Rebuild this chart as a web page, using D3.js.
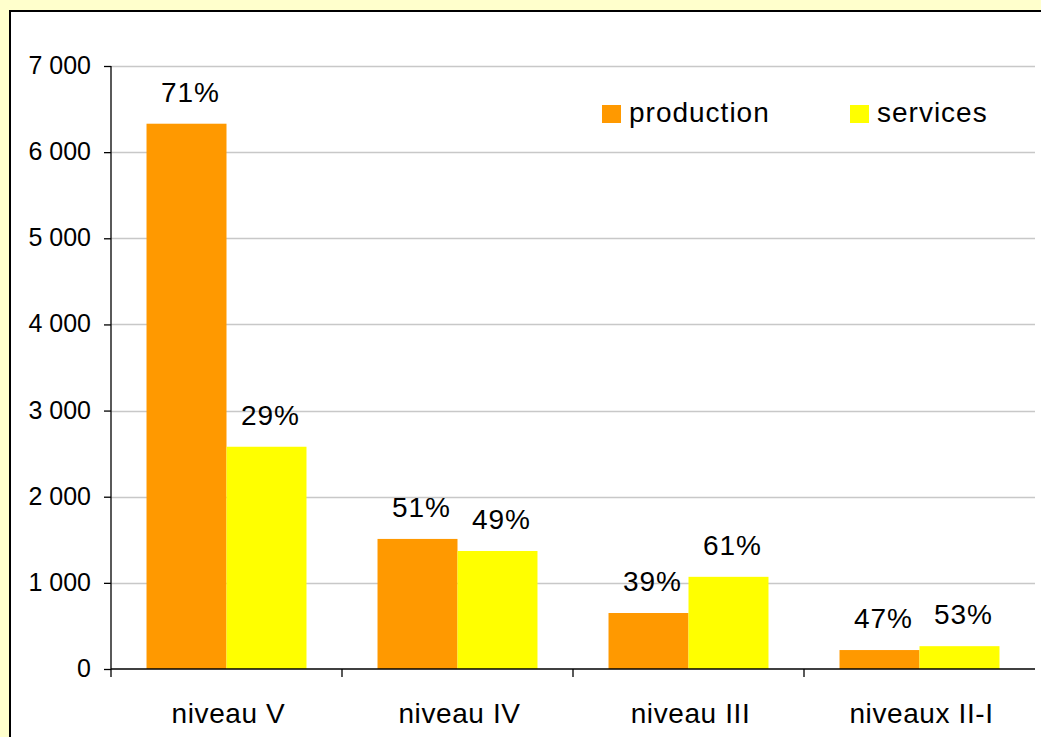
<!DOCTYPE html>
<meta charset="utf-8">
<script src="https://cdn.jsdelivr.net/npm/d3@7"></script>
<style>
  body { margin: 0; background: #FFFFCC; }
  text { font-family: "Liberation Sans", Arial, sans-serif; fill: #000; }
</style>
<div id="chart"></div>
<script>

// data
var categories = ["niveau V", "niveau IV", "niveau III", "niveaux II-I"];
var series = ["production", "services"];
var production = [6330, 1510, 650, 220];
var services = [2580, 1370, 1070, 265];
var productionPct = ["71%", "51%", "39%", "47%"];
var servicesPct = ["29%", "49%", "61%", "53%"];
var yTicks = [0, 1000, 2000, 3000, 4000, 5000, 6000, 7000];

var colors = { "production": "#FF9900", "services": "#FFFF00" };

var width = 1041, height = 737;
var margin = {top: 66, right: 6, bottom: 68, left: 111};

var svg = d3.select("#chart")
  .append("svg")
  .attr("width", width)
  .attr("height", height);

// white chart area with its dark frame (runs off the picture right and bottom)
svg.append("rect")
  .attr("x", 10).attr("y", 11)
  .attr("width", width + 20).attr("height", height + 20)
  .attr("fill", "#fff")
  .attr("stroke", "#000")
  .attr("stroke-width", 2);

var y = d3.scaleLinear()
  .domain([0, 7000])
  .range([height - margin.bottom, margin.top]);

var x0 = d3.scaleBand()
  .domain(categories)
  .range([margin.left, width - margin.right])
  .paddingInner(0).paddingOuter(0);

var x1 = d3.scaleBand()
  .domain(series)
  .range([0, x0.bandwidth()])
  .paddingInner(0).paddingOuter(0.444);

// gridlines
svg.append("g")
  .selectAll("line")
  .data(yTicks.filter(function(d) { return d > 0; }))
  .enter().append("line")
  .attr("x1", margin.left).attr("x2", width - margin.right)
  .attr("y1", function(d) { return Math.round(y(d)) + 0.5; })
  .attr("y2", function(d) { return Math.round(y(d)) + 0.5; })
  .attr("stroke", "#c8c8c8").attr("stroke-width", 1.5);

var rows = categories.map(function(c, i) {
  return [
    {cat: c, key: "production", value: production[i], pct: productionPct[i]},
    {cat: c, key: "services", value: services[i], pct: servicesPct[i]}
  ];
});

var groups = svg.append("g")
  .selectAll("g")
  .data(rows)
  .enter().append("g")
  .attr("transform", function(d, i) { return "translate(" + x0(categories[i]) + ",0)"; });

groups.selectAll("rect")
  .data(function(d) { return d; })
  .enter().append("rect")
  .attr("x", function(d) { return x1(d.key); })
  .attr("width", x1.bandwidth())
  .attr("y", function(d) { return y(d.value); })
  .attr("height", function(d) { return y(0) - y(d.value); })
  .attr("fill", function(d) { return colors[d.key]; });

groups.selectAll("text")
  .data(function(d) { return d; })
  .enter().append("text")
  .attr("x", function(d) { return x1(d.key) + x1.bandwidth() / 2 + 4; })
  .attr("y", function(d) { return y(d.value) - 22; })
  .attr("text-anchor", "middle")
  .style("font-size", "28px")
  .style("letter-spacing", "1px")
  .text(function(d) { return d.pct; });

// y axis
var fmt = function(d) { return d3.format(",")(d).replace(/,/g, " "); };
var yAxis = svg.append("g")
  .attr("transform", "translate(" + margin.left + ",0)")
  .call(d3.axisLeft(y).tickValues(yTicks).tickSize(7).tickPadding(13).tickFormat(fmt));
yAxis.selectAll("text").style("font-size", "25px").attr("dy", "0.3em");
yAxis.selectAll("line, path").attr("stroke", "#000").attr("stroke-width", 1.3);
yAxis.select(".domain").attr("d", "M0," + margin.top + "V" + y(0));

// x axis, ticks between categories
var xAxis = svg.append("g")
  .attr("transform", "translate(0," + y(0) + ")");
xAxis.append("line")
  .attr("x1", margin.left).attr("x2", width - margin.right)
  .attr("stroke", "#000").attr("stroke-width", 1.3);
xAxis.selectAll(".tk")
  .data(categories)
  .enter().append("line")
  .attr("x1", function(d) { return x0(d); })
  .attr("x2", function(d) { return x0(d); })
  .attr("y1", 0).attr("y2", 8)
  .attr("stroke", "#000").attr("stroke-width", 1.3);
xAxis.selectAll("text")
  .data(categories)
  .enter().append("text")
  .attr("x", function(d) { return x0(d) + x0.bandwidth() / 2 + 2; })
  .attr("y", 54)
  .attr("text-anchor", "middle")
  .style("font-size", "28px")
  .style("letter-spacing", "0.6px")
  .text(function(d) { return d; });

// legend
var legend = svg.append("g")
  .selectAll("g")
  .data(series)
  .enter().append("g")
  .attr("transform", function(d, i) { return "translate(" + (602 + i * 248) + ",105)"; });
legend.append("rect")
  .attr("width", 19).attr("height", 18)
  .attr("fill", function(d) { return colors[d]; });
legend.append("text")
  .attr("x", 27).attr("y", 17)
  .style("font-size", "28px")
  .style("letter-spacing", "1px")
  .text(function(d) { return d; });

</script>
